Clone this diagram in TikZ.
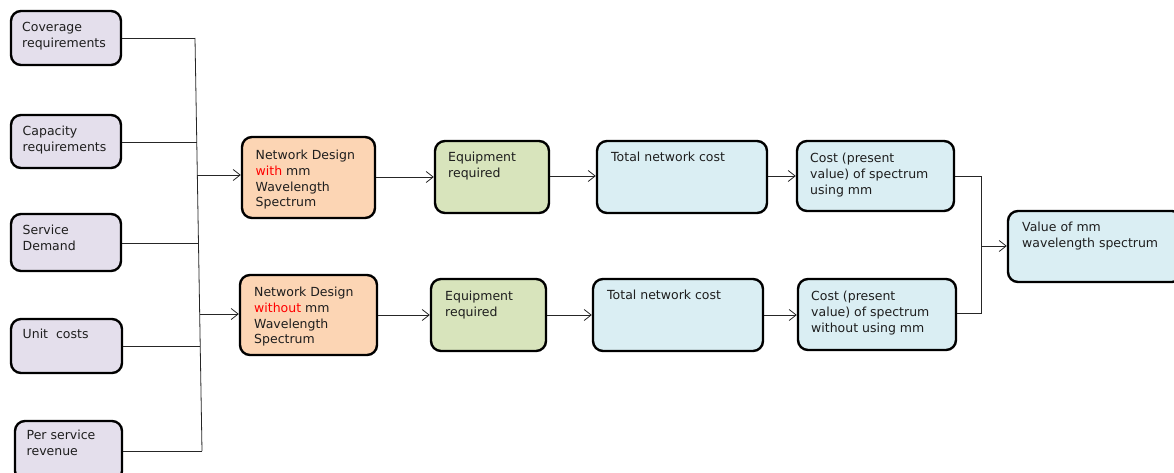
\documentclass[tikz,border=0pt]{standalone}
\usepackage{fontspec}
\setmainfont{DejaVu Sans}
\usetikzlibrary{arrows.meta,calc}
\definecolor{lav}{HTML}{E4DFEC}
\definecolor{orng}{HTML}{FCD5B4}
\definecolor{grn}{HTML}{D8E4BC}
\definecolor{blu}{HTML}{DAEEF3}
\definecolor{txtc}{HTML}{1E1E1E}
\begin{document}
\begin{tikzpicture}[x=1pt,y=-1pt,
  boxst/.style={draw=black,line width=2.4pt,rounded corners=10pt,inner sep=0pt},
  txtst/.style={anchor=north west,inner sep=0pt,align=left,text=txtc,
    font=\fontsize{12.5}{15.7}\selectfont},
  conn/.style={draw=black!85,line width=0.8pt},
  arr/.style={conn,-{Straight Barb[length=7pt,width=11pt,line width=0.8pt]}}]
\useasboundingbox (0,0) rectangle (1174,473);
\begin{scope}
\clip (0,0) rectangle (1174,473);
% left column
\node[boxst,fill=lav,minimum width=110,minimum height=54] (cov) at (66,38) {};
\node[boxst,fill=lav,minimum width=110,minimum height=53] (cap) at (66,141.5) {};
\node[boxst,fill=lav,minimum width=110,minimum height=57] (srv) at (66,242.5) {};
\node[boxst,fill=lav,minimum width=111,minimum height=54] (unit) at (66.5,346) {};
\node[boxst,fill=lav,minimum width=107,minimum height=60] (rev) at (68.5,451) {};
% top row
\node[boxst,fill=orng,minimum width=133,minimum height=81] (ndt) at (308.5,177.5) {};
\node[boxst,fill=grn,minimum width=114,minimum height=72] (eqt) at (492,177) {};
\node[boxst,fill=blu,minimum width=170,minimum height=72] (tot) at (682,177) {};
\node[boxst,fill=blu,minimum width=157,minimum height=70] (cst) at (875.5,176) {};
% bottom row
\node[boxst,fill=orng,minimum width=137,minimum height=80] (ndb) at (308.5,315) {};
\node[boxst,fill=grn,minimum width=115,minimum height=72] (eqb) at (488.5,315) {};
\node[boxst,fill=blu,minimum width=170,minimum height=72] (totb) at (678,315) {};
\node[boxst,fill=blu,minimum width=158,minimum height=71] (cstb) at (877,314.5) {};
% value
\node[boxst,fill=blu,minimum width=174,minimum height=71] (val) at (1095,246.5) {};
\end{scope}
% texts
\node[txtst] (tcov) at (22,22) {\rule{0pt}{9pt}Coverage\\requirements};
\node[txtst] (tcap) at (22.5,126) {\rule{0pt}{9pt}Capacity\\requirements};
\node[txtst] (tsrv) at (22.5,225) {\rule{0pt}{9pt}Service\\Demand};
\node[txtst] (tunit) at (22.5,329) {\rule{0pt}{9pt}Unit\ \ costs};
\node[txtst] (trev) at (26.5,430) {\rule{0pt}{9pt}Per service\\revenue};
\node[txtst] (tndt) at (255.5,150) {\rule{0pt}{9pt}Network\ Design\\\textcolor{red}{with} mm\\Wavelength\\Spectrum};
\node[txtst] (teqt) at (448,152) {\rule{0pt}{9pt}Equipment\\required};
\node[txtst] (ttot) at (611,152) {\rule{0pt}{9pt}Total network cost};
\node[txtst] (tcst) at (810,153) {\rule{0pt}{9pt}Cost\ (present\\value)\ of spectrum\\using mm};
\node[txtst] (tndb) at (254,287) {\rule{0pt}{9pt}Network\ Design\\\textcolor{red}{without} mm\\Wavelength\\Spectrum};
\node[txtst] (teqb) at (445,291) {\rule{0pt}{9pt}Equipment\\required};
\node[txtst] (ttotb) at (607,290) {\rule{0pt}{9pt}Total network cost};
\node[txtst] (tcstb) at (811,291) {\rule{0pt}{9pt}Cost\ (present\\value)\ of spectrum\\without using mm};
\node[txtst] (tval) at (1022,222) {\rule{0pt}{9pt}Value of mm\\wavelength spectrum};
% bus on the left
\coordinate (bt) at (195,38);
\coordinate (bb) at (202,451);
\coordinate (b2) at ($(bt)!0.2518!(bb)$);
\coordinate (bA) at ($(bt)!0.3317!(bb)$);
\coordinate (b3) at ($(bt)!0.4964!(bb)$);
\coordinate (bB) at ($(bt)!0.6683!(bb)$);
\coordinate (b4) at ($(bt)!0.7458!(bb)$);
\draw[conn] (bt) -- (bb);
\draw[conn] (cov.east) -- (bt);
\draw[conn] (cap.east |- b2) -- (b2);
\draw[conn] (srv.east |- b3) -- (b3);
\draw[conn] (unit.east |- b4) -- (b4);
\draw[conn] (rev.east |- bb) -- (bb);
\draw[arr] (bA) -- (ndt.west |- bA);
\draw[arr] (bB) -- (ndb.west |- bB);
% top chain
\coordinate (y1) at (0,177);
\coordinate (y2) at (0,176);
\draw[arr] (ndt.east |- y1) -- (eqt.west |- y1);
\draw[arr] (eqt.east |- y2) -- (tot.west |- y2);
\draw[arr] (tot.east |- y2) -- (cst.west |- y2);
% bottom chain
\coordinate (y3) at (0,315);
\draw[arr] (ndb.east |- y3) -- (eqb.west |- y3);
\draw[arr] (eqb.east |- y3) -- (totb.west |- y3);
\draw[arr] (totb.east |- y3) -- (cstb.west |- y3);
% merge into value
\coordinate (mx) at (981,246);
\coordinate (mt) at (981,176);
\coordinate (mb) at (981,313);
\draw[conn] (cst.east |- mt) -- (mt) -- (mb) -- (cstb.east |- mb);
\draw[arr] (mx) -- (val.west |- mx);
\end{tikzpicture}
\end{document}
